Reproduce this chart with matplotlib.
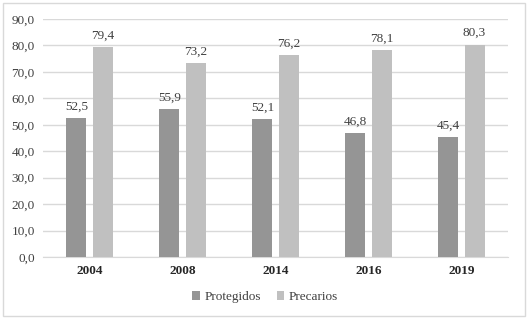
import matplotlib
matplotlib.use("Agg")
import matplotlib.pyplot as plt
from matplotlib.patches import Rectangle
import numpy as np

years = ["2004", "2008", "2014", "2016", "2019"]
protegidos = [52.5, 55.9, 52.1, 46.8, 45.4]
precarios = [79.4, 73.2, 76.2, 78.1, 80.3]
yticks = [0, 10, 20, 30, 40, 50, 60, 70, 80, 90]

plt.rcParams['font.family'] = ['Liberation Serif', 'DejaVu Serif']

fig = plt.figure(figsize=(5.3, 3.21), dpi=100)
fig.patches.append(Rectangle((3/530, 1-316/321), 522/530, 313/321, transform=fig.transFigure,
                             fill=False, edgecolor='#d9d9d9', linewidth=1))
ax = fig.add_axes([43/530, 1-257/321, 465/530, 238/321])

x = np.arange(len(years))
w = 0.215
off = 0.14
dark = '#959595'
light = '#c0c0c0'
b1 = ax.bar(x - off, protegidos, w, color=dark, label='Protegidos', zorder=3)
b2 = ax.bar(x + off, precarios, w, color=light, label='Precarios', zorder=3)

def fmt(v):
    return f"{v:.1f}".replace('.', ',')

for bars, vals in ((b1, protegidos), (b2, precarios)):
    for r, v in zip(bars, vals):
        ax.annotate(fmt(v), (r.get_x() + r.get_width()/2, v), xytext=(0, 4),
                    textcoords='offset points', ha='center', va='bottom', fontsize=9.5, color='#404040')

ax.set_xlim(-0.5, len(years) - 0.5)
ax.set_ylim(0, 90)
ax.set_yticks(yticks)
ax.set_yticklabels([fmt(t) for t in yticks], fontsize=9.5, color='#404040')
ax.set_xticks(x)
ax.set_xticklabels(years, fontsize=9.5, fontweight='bold', color='#262626')
ax.tick_params(axis='x', length=0, pad=6)
ax.tick_params(axis='y', length=0, pad=6)
ax.grid(axis='y', color='#d9d9d9', linewidth=1, zorder=0)
for s in ['top', 'right', 'left']:
    ax.spines[s].set_visible(False)
ax.spines['bottom'].set_color('#d9d9d9')

fig.legend(handles=[b1, b2], loc='center', bbox_to_anchor=(265/530, 1-297/321), ncol=2,
           frameon=False, fontsize=9.5, handlelength=0.6, handleheight=0.6, handletextpad=0.3,
           columnspacing=1.2, labelcolor='#404040')

fig.savefig('out.png', dpi=100)
